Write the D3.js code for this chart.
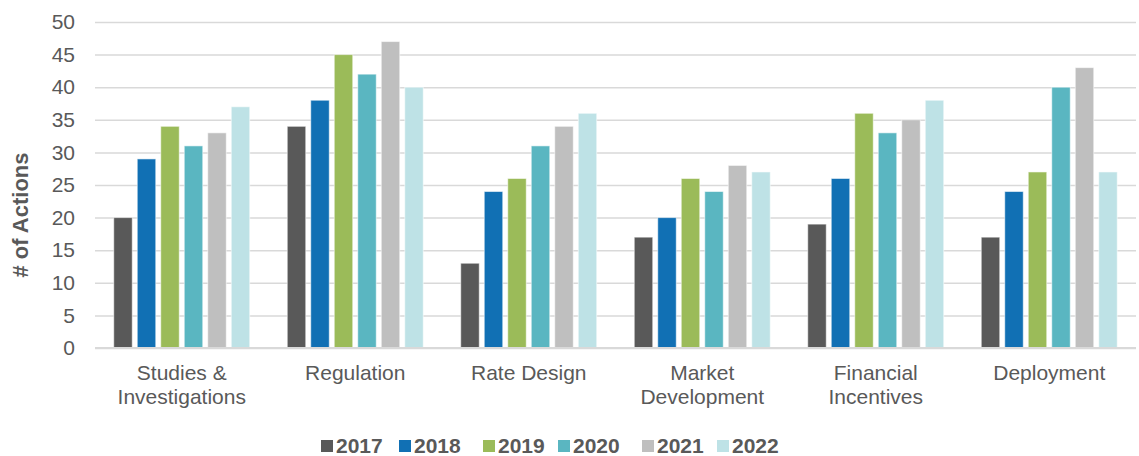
<!DOCTYPE html>
<html>
<head>
<meta charset="utf-8">
<script src="https://cdn.jsdelivr.net/npm/d3@7"></script>
<style>
  html, body { margin: 0; padding: 0; background: #fff; }
  svg { display: block; font-family: "Liberation Sans", Arial, sans-serif; }
</style>
</head>
<body>
<svg id="chart" width="1139" height="456"></svg>
<script>
// Policy action counts by category and year
const categories = [
  ["Studies &", "Investigations"],
  ["Regulation"],
  ["Rate Design"],
  ["Market", "Development"],
  ["Financial", "Incentives"],
  ["Deployment"]
];
const years = ["2017", "2018", "2019", "2020", "2021", "2022"];
const colors = ["#595959", "#1170B4", "#9BBB59", "#5AB6C1", "#BFBFBF", "#BEE2E6"];

const values2017 = [20, 34, 13, 17, 19, 17];
const values2018 = [29, 38, 24, 20, 26, 24];
const values2019 = [34, 45, 26, 26, 36, 27];
const values2020 = [31, 42, 31, 24, 33, 40];
const values2021 = [33, 47, 34, 28, 35, 43];
const values2022 = [37, 40, 36, 27, 38, 27];
const series = [values2017, values2018, values2019, values2020, values2021, values2022];

const yTicks = [0, 5, 10, 15, 20, 25, 30, 35, 40, 45, 50];

const svg = d3.select("#chart");
const plotLeft = 95, plotRight = 1136, plotTop = 22, plotBottom = 348;
const textColor = "#595959";

const catKeys = categories.map(c => c.join(" "));
const x0 = d3.scaleBand().domain(catKeys).range([plotLeft, plotRight]);
const groupWidth = 136;
const x1 = d3.scaleBand().domain(years).range([0, groupWidth]).paddingInner(0.213);
const y = d3.scaleLinear().domain([0, 50]).range([plotBottom, plotTop]);

// Gridlines and value ticks
const yAxis = d3.axisLeft(y).tickValues(yTicks).tickSize(-(plotRight - plotLeft)).tickPadding(20);
const gy = svg.append("g").attr("transform", `translate(${plotLeft},0)`).call(yAxis);
gy.select(".domain").remove();
gy.selectAll(".tick line").attr("stroke", "#D9D9D9").attr("stroke-width", 1.5);
gy.selectAll(".tick text")
  .attr("fill", textColor)
  .style("font-size", "21px")
  .attr("font-family", "Liberation Sans, Arial, sans-serif");

// Bars
const groups = svg.append("g").selectAll("g")
  .data(catKeys)
  .join("g")
  .attr("transform", d => `translate(${x0(d) + (x0.bandwidth() - groupWidth) / 2},0)`);

groups.selectAll("rect")
  .data((d, ci) => years.map((yr, si) => ({ yr, si, v: series[si][ci] })))
  .join("rect")
  .attr("x", d => x1(d.yr))
  .attr("width", x1.bandwidth())
  .attr("y", d => y(d.v))
  .attr("height", d => y(0) - y(d.v))
  .attr("fill", d => colors[d.si])
  .attr("stroke", "rgba(255,255,255,0.55)")
  .attr("stroke-width", 1);

// Baseline
svg.append("line")
  .attr("x1", plotLeft).attr("x2", plotRight)
  .attr("y1", y(0)).attr("y2", y(0))
  .attr("stroke", "#D9D9D9").attr("stroke-width", 2);

// Category labels
const xAxis = d3.axisBottom(x0).tickSize(0).tickFormat("");
const gx = svg.append("g").attr("transform", `translate(0,${plotBottom})`).call(xAxis);
gx.select(".domain").remove();
gx.selectAll(".tick").each(function(d, i) {
  const t = d3.select(this).append("text")
    .attr("text-anchor", "middle")
    .attr("fill", textColor)
    .style("font-size", "21px");
  categories[i].forEach((line, li) => {
    t.append("tspan").attr("x", 0).attr("y", 32 + li * 24).text(line);
  });
});

// Y-axis title
svg.append("text")
  .attr("transform", `translate(28,${(plotTop + plotBottom) / 2 + 30}) rotate(-90)`)
  .attr("text-anchor", "middle")
  .attr("fill", textColor)
  .style("font-size", "22px")
  .style("font-weight", "bold")
  .text("# of Actions");

// Legend
const legendX = [321, 399, 483, 558, 642, 717];
const legend = svg.append("g").selectAll("g")
  .data(years)
  .join("g")
  .attr("transform", (d, i) => `translate(${legendX[i]},0)`);
legend.append("rect")
  .attr("x", 0).attr("y", 440).attr("width", 12).attr("height", 12)
  .attr("fill", (d, i) => colors[i]);
legend.append("text")
  .attr("x", 15).attr("y", 453)
  .attr("fill", textColor)
  .style("font-size", "21px")
  .style("font-weight", "bold")
  .text(d => d);
</script>
</body>
</html>
